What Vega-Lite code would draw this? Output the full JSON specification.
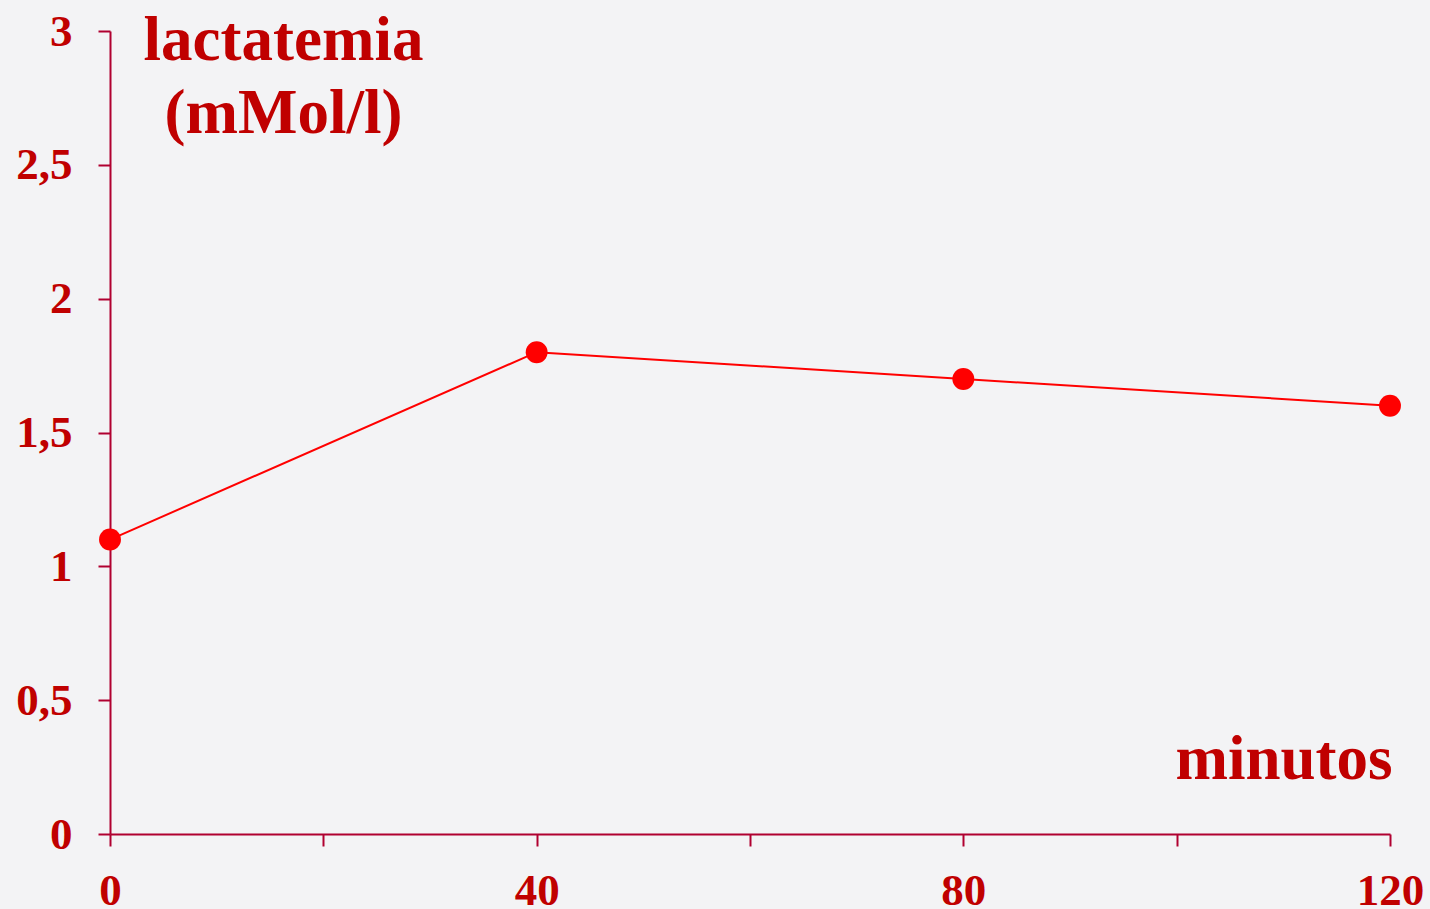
{
  "$schema": "https://vega.github.io/schema/vega-lite/v6.json",
  "width": 1280,
  "height": 803,
  "autosize": {"type": "none"},
  "padding": {"left": 110, "top": 31, "right": 40, "bottom": 75},
  "background": "#f3f3f5",
  "config": {
    "view": {"stroke": null},
    "font": "Liberation Serif"
  },
  "data": {
    "values": [
      {"min": 0, "lact": 1.1},
      {"min": 40, "lact": 1.8},
      {"min": 80, "lact": 1.7},
      {"min": 120, "lact": 1.6}
    ]
  },
  "encoding": {
    "x": {
      "field": "min",
      "type": "quantitative",
      "scale": {"domain": [0, 120], "nice": false},
      "axis": {
        "values": [0, 20, 40, 60, 80, 100, 120],
        "labelExpr": "datum.value % 40 == 0 ? datum.label : ''",
        "grid": false,
        "domainColor": "#b00030",
        "domainWidth": 2,
        "tickColor": "#b00030",
        "tickWidth": 2,
        "tickSize": 12,
        "labelPadding": 22,
        "labelFont": "Liberation Serif",
        "labelFontWeight": "bold",
        "labelFontSize": 45,
        "labelColor": "#c00000",
        "labelFlush": false,
        "labelOverlap": false,
        "title": "minutos",
        "titleFont": "Liberation Serif",
        "titleFontWeight": "bold",
        "titleFontSize": 63,
        "titleColor": "#c00000",
        "titleAnchor": "end",
        "titleAlign": "right",
        "titleBaseline": "alphabetic",
        "titleX": 1282,
        "titleY": -56
      }
    },
    "y": {
      "field": "lact",
      "type": "quantitative",
      "scale": {"domain": [0, 3], "nice": false},
      "axis": {
        "values": [0, 0.5, 1, 1.5, 2, 2.5, 3],
        "labelExpr": "replace(format(datum.value, '~g'), '.', ',')",
        "grid": false,
        "domainColor": "#b00030",
        "domainWidth": 2,
        "tickColor": "#b00030",
        "tickWidth": 2,
        "tickSize": 12,
        "labelPadding": 26,
        "labelFont": "Liberation Serif",
        "labelFontWeight": "bold",
        "labelFontSize": 45,
        "labelColor": "#c00000",
        "labelFlush": false,
        "labelOverlap": false,
        "title": ["lactatemia", "(mMol/l)"],
        "titleFont": "Liberation Serif",
        "titleFontWeight": "bold",
        "titleFontSize": 63,
        "titleColor": "#c00000",
        "titleAngle": 0,
        "titleAlign": "center",
        "titleBaseline": "alphabetic",
        "titleLineHeight": 73,
        "titleX": 173,
        "titleY": 28
      }
    }
  },
  "layer": [
    {"mark": {"type": "line", "color": "#ff0000", "strokeWidth": 2}},
    {"mark": {"type": "point", "filled": true, "color": "#ff0000", "opacity": 1, "size": 480}}
  ]
}
